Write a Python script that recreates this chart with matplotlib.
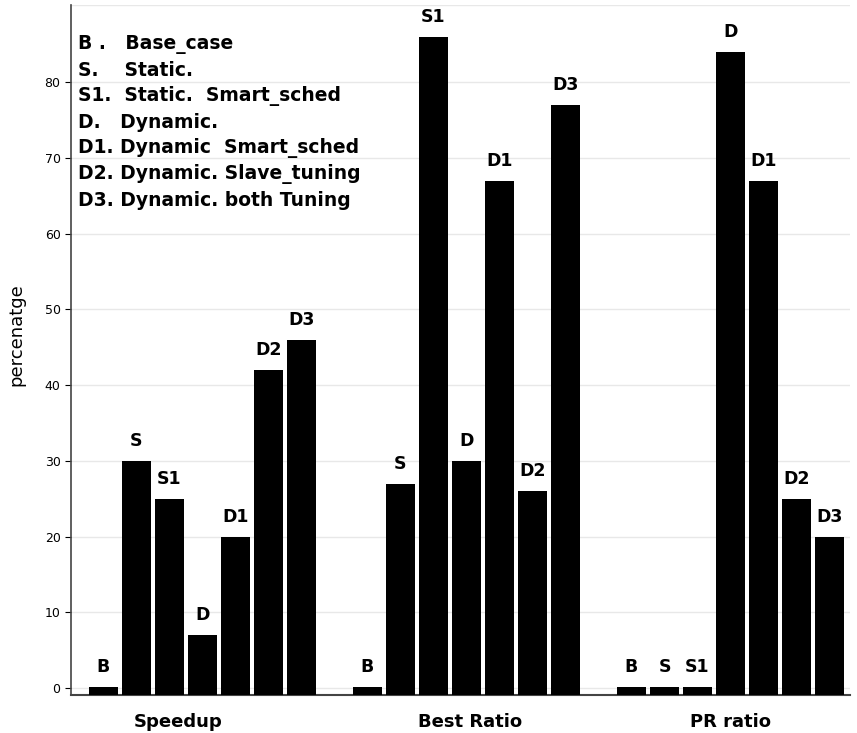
import matplotlib
matplotlib.use("Agg")
import matplotlib.pyplot as plt
import numpy as np

groups = ["Speedup", "Best Ratio", "PR ratio"]
codes = ["B", "S", "S1", "D", "D1", "D2", "D3"]
speedup = [0, 30, 25, 7, 20, 42, 46]
best_ratio = [0, 27, 86, 30, 67, 26, 77]
pr_ratio = [0, 0, 0, 84, 67, 25, 20]
legend_lines = [
    "B .   Base_case",
    "S.    Static.",
    "S1.  Static.  Smart_sched",
    "D.   Dynamic.",
    "D1. Dynamic  Smart_sched",
    "D2. Dynamic. Slave_tuning",
    "D3. Dynamic. both Tuning",
]

series = [speedup, best_ratio, pr_ratio]
ymin, ymax = -0.9, 90.2

fig = plt.figure(figsize=(8.57, 7.33), dpi=100)
ax = fig.add_axes([0.0828, 0.0518, 0.909, 0.9414])

for g, vals in enumerate(series):
    xs = np.arange(len(codes)) + g * 8
    tops = np.maximum(np.array(vals, dtype=float), 0.2)
    ax.bar(xs, tops - ymin, bottom=ymin, width=0.88, color="black", zorder=3)
    for x, t, c in zip(xs, tops, codes):
        ax.annotate(c, (x, t), textcoords="offset points", xytext=(0, 8),
                    ha="center", va="bottom", fontsize=12.5, fontweight="bold")

ax.set_xlim(-0.985, 22.62)
ax.set_ylim(ymin, ymax)
ax.set_yticks(range(0, 90, 10))
ax.tick_params(axis="y", labelsize=9, length=4, direction="out")
ax.set_xticks([2.25, 11.1, 19])
ax.set_xticklabels(groups, fontsize=13, fontweight="bold")
ax.tick_params(axis="x", length=0, pad=13)
ax.grid(axis="y", color="#e8e8e8", linewidth=1, zorder=0)
fig.text(16 / 857, 1 - 335 / 733, "percenatge", rotation=90, fontsize=13,
         ha="center", va="center")

for s in ["top", "right"]:
    ax.spines[s].set_visible(False)
ax.spines["left"].set_color("#444")
ax.spines["bottom"].set_color("#444")
ax.spines["left"].set_linewidth(1.2)
ax.spines["bottom"].set_linewidth(1.5)
ax.axhline(ymax, color="#e8e8e8", linewidth=1, zorder=0)

for i, line in enumerate(legend_lines):
    ax.text(78 / 857, (733 - 44 - i * 26) / 733, line, transform=fig.transFigure,
            fontsize=13.5, fontweight="bold", va="center", ha="left")

fig.savefig("out.png", dpi=100)
